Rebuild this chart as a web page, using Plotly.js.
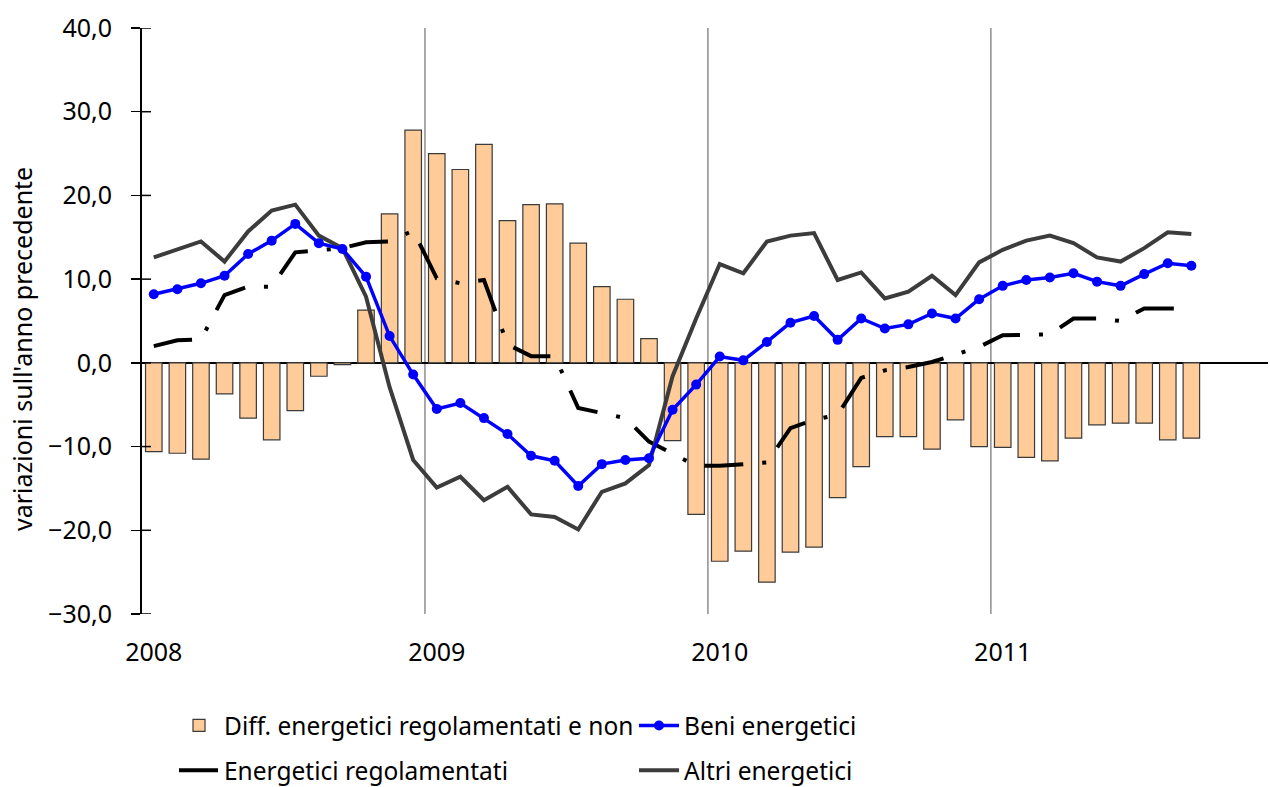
<!DOCTYPE html>
<html>
<head>
<meta charset="utf-8">
<script src="https://cdn.plot.ly/plotly-3.0.1.min.js"></script>
<style>
  html, body { margin: 0; padding: 0; background: #fff; }
  #chart { width: 1270px; height: 787px; }
</style>
</head>
<body>
<div id="chart"></div>
<script>
// Months (Jan 2008 - Sep 2011)
const mesi = [
  '2008-01','2008-02','2008-03','2008-04','2008-05','2008-06','2008-07','2008-08','2008-09','2008-10','2008-11','2008-12',
  '2009-01','2009-02','2009-03','2009-04','2009-05','2009-06','2009-07','2009-08','2009-09','2009-10','2009-11','2009-12',
  '2010-01','2010-02','2010-03','2010-04','2010-05','2010-06','2010-07','2010-08','2010-09','2010-10','2010-11','2010-12',
  '2011-01','2011-02','2011-03','2011-04','2011-05','2011-06','2011-07','2011-08','2011-09'
];
const anni = ['2008', '2009', '2010', '2011'];

// Diff. energetici regolamentati e non (bars)
const diffRegNon = [
  -10.6, -10.8, -11.5, -3.7, -6.6, -9.2, -5.7, -1.6, -0.2, 6.3, 17.8, 27.8,
  25.0, 23.1, 26.1, 17.0, 18.9, 19.0, 14.3, 9.1, 7.6, 2.9, -9.3, -18.1,
  -23.7, -22.5, -26.2, -22.6, -22.0, -16.1, -12.4, -8.8, -8.8, -10.3, -6.8, -10.0,
  -10.1, -11.3, -11.7, -9.0, -7.4, -7.2, -7.2, -9.2, -9.0
];
// Beni energetici
const beniEnergetici = [
  8.2, 8.8, 9.5, 10.4, 13.0, 14.6, 16.6, 14.3, 13.6, 10.3, 3.2, -1.4,
  -5.5, -4.8, -6.6, -8.5, -11.1, -11.7, -14.7, -12.1, -11.6, -11.4, -5.6, -2.6,
  0.75, 0.3, 2.5, 4.8, 5.6, 2.75, 5.3, 4.1, 4.6, 5.9, 5.3, 7.6,
  9.2, 9.9, 10.2, 10.7, 9.7, 9.2, 10.6, 11.9, 11.6
];
// Energetici regolamentati
const energeticiRegolamentati = [
  2.0, 2.7, 2.8, 8.1, 9.1, 9.1, 13.2, 13.4, 13.7, 14.4, 14.5, 15.8,
  10.1, 9.5, 9.9, 2.2, 0.8, 0.8, -5.4, -6.0, -6.6, -9.4, -10.8, -12.3,
  -12.3, -12.1, -11.9, -7.8, -6.8, -6.2, -1.8, -0.9, -0.5, 0.1, 0.95, 1.9,
  3.3, 3.3, 3.4, 5.3, 5.3, 5.0, 6.5, 6.5, 6.5
];
// Altri energetici
const altriEnergetici = [
  12.6, 13.5, 14.5, 12.1, 15.7, 18.2, 18.9, 15.2, 13.7, 7.9, -2.9, -11.6,
  -14.9, -13.6, -16.4, -14.8, -18.1, -18.4, -19.9, -15.4, -14.4, -12.2, -1.6, 5.3,
  11.8, 10.7, 14.5, 15.2, 15.5, 9.9, 10.8, 7.7, 8.5, 10.4, 8.1, 12.0,
  13.5, 14.6, 15.2, 14.3, 12.6, 12.1, 13.7, 15.6, 15.4
];
const yTicks = [-30, -20, -10, 0, 10, 20, 30, 40];

const FONT = '"Noto Sans", "Open Sans", sans-serif';
const x = mesi.map((m, i) => i + 0.5);
const yearIdx = anni.map((a) => mesi.indexOf(a + '-01'));

const traces = [
  {
    type: 'bar', name: 'Diff. energetici regolamentati e non', x: x, y: diffRegNon,
    width: 0.7,
    marker: { color: '#FFCC99', line: { color: '#3a3a3a', width: 1.2 } },
    legend: 'legend', legendgroup: 'a', legendrank: 1, hoverinfo: 'y'
  },
  {
    type: 'scatter', mode: 'lines', name: 'Energetici regolamentati', x: x, y: energeticiRegolamentati,
    line: { color: '#000000', width: 4, dash: '39px,19px,4px,19px' },
    legend: 'legend', legendgroup: 'b', legendrank: 2
  },
  {
    type: 'scatter', mode: 'lines', name: 'Altri energetici', x: x, y: altriEnergetici,
    line: { color: '#3c3c3c', width: 4 },
    legend: 'legend2', legendgroup: 'd', legendrank: 2
  },
  {
    type: 'scatter', mode: 'lines+markers', name: 'Beni energetici', x: x, y: beniEnergetici,
    line: { color: '#0000FF', width: 3.5 },
    marker: { color: '#0000FF', size: 10 },
    legend: 'legend2', legendgroup: 'c', legendrank: 1
  }
];

// vertical year separators + inner half of the crossing y ticks
const shapes = yearIdx.slice(1).map((idx) => ({
  type: 'line', xref: 'x', yref: 'y', x0: idx, x1: idx, y0: -30, y1: 40,
  line: { color: '#555555', width: 1 }, layer: 'below'
})).concat(yTicks.map((v) => ({
  type: 'line', xref: 'x', yref: 'y', xsizemode: 'pixel', xanchor: 0,
  x0: 0, x1: 9, y0: v, y1: v, line: { color: '#000', width: 1.5 }
})));

const legendCommon = {
  xref: 'container', yref: 'container', xanchor: 'left', yanchor: 'top',
  orientation: 'v', bgcolor: 'rgba(0,0,0,0)', borderwidth: 0,
  font: { family: FONT, size: 24.5, color: '#000' },
  tracegroupgap: 10, itemwidth: 40, traceorder: 'grouped'
};

const layout = {
  width: 1270, height: 787,
  margin: { l: 142, r: 2, t: 28, b: 173, autoexpand: false },
  paper_bgcolor: '#ffffff', plot_bgcolor: '#ffffff',
  separators: ',.',
  font: { family: FONT, size: 25, color: '#000' },
  showlegend: true,
  xaxis: {
    range: [0, 47.75], showgrid: false, zeroline: false, showline: false,
    tickvals: yearIdx.map((i) => i + 0.5), ticktext: anni, ticks: '', tickangle: 0,
    ticklabelstandoff: 21, tickfont: { family: FONT, size: 25, color: '#000' },
    automargin: false, fixedrange: true
  },
  yaxis: {
    range: [-30, 40], tickvals: yTicks, tickformat: '.1f',
    showgrid: false, zeroline: true, zerolinecolor: '#000', zerolinewidth: 2,
    showline: true, linecolor: '#000', linewidth: 2,
    ticks: 'outside', ticklen: 9, tickwidth: 1.5, tickcolor: '#000',
    ticklabelstandoff: 14, automargin: false,
    tickfont: { family: FONT, size: 25, color: '#000' },
    fixedrange: true
  },
  legend: Object.assign({}, legendCommon, { x: 174 / 1270, y: 1 - 703 / 787 }),
  legend2: Object.assign({}, legendCommon, { x: 634 / 1270, y: 1 - 703 / 787 }),
  shapes: shapes,
  annotations: [{
    text: "variazioni sull'anno precedente", textangle: -90,
    xref: 'paper', yref: 'paper', x: 0, y: 0.5, xanchor: 'center', yanchor: 'middle',
    xshift: -120, yshift: -28,
    showarrow: false, font: { family: FONT, size: 25, color: '#000' }
  }]
};

Plotly.newPlot('chart', traces, layout, { displayModeBar: false, staticPlot: true });
</script>
</body>
</html>
